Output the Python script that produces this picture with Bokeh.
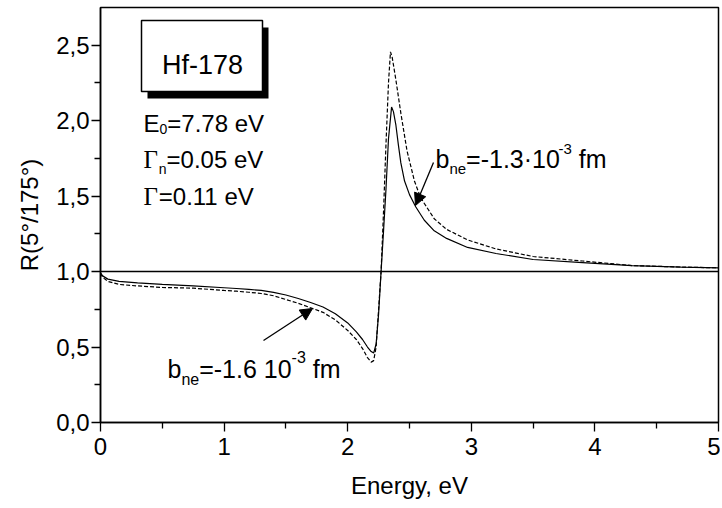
from bokeh.plotting import figure
from bokeh.models import Span, Label, Arrow, NormalHead, BoxAnnotation, FixedTicker, Range1d
from bokeh.embed import file_html
from bokeh.resources import INLINE

# ---------------- data ----------------
energy_solid = [0.0, 0.02, 0.06, 0.15, 0.3, 0.5, 0.75, 1.0, 1.1, 1.2, 1.3, 1.4, 1.5, 1.6, 1.7, 1.8,
                1.9, 2.0, 2.07, 2.12, 2.16, 2.19, 2.21, 2.23, 2.25, 2.27, 2.29, 2.31, 2.33, 2.355,
                2.37, 2.39, 2.41, 2.43, 2.46, 2.50, 2.55, 2.62, 2.70, 2.80, 2.97, 3.2, 3.5, 3.9,
                4.3, 4.7, 5.0]
ratio_solid = [0.99, 0.97, 0.95, 0.935, 0.925, 0.915, 0.905, 0.893, 0.888, 0.882, 0.875, 0.862,
               0.845, 0.822, 0.795, 0.765, 0.72, 0.66, 0.60, 0.55, 0.50, 0.47, 0.46, 0.52, 0.72,
               1.0, 1.27, 1.55, 1.88, 2.09, 2.06, 1.97, 1.84, 1.72, 1.60, 1.51, 1.43, 1.34, 1.27,
               1.22, 1.16, 1.12, 1.08, 1.06, 1.04, 1.03, 1.025]

energy_dashed = [0.0, 0.02, 0.06, 0.15, 0.3, 0.5, 0.75, 1.0, 1.1, 1.2, 1.3, 1.4, 1.5, 1.6, 1.7,
                 1.8, 1.9, 2.0, 2.07, 2.12, 2.16, 2.19, 2.21, 2.23, 2.25, 2.27, 2.29, 2.31, 2.33,
                 2.346, 2.36, 2.39, 2.43, 2.48, 2.54, 2.59, 2.70, 2.80, 2.97, 3.2, 3.5, 3.9, 4.3,
                 4.7, 5.0]
ratio_dashed = [0.99, 0.96, 0.935, 0.915, 0.905, 0.895, 0.89, 0.875, 0.87, 0.863, 0.855, 0.84,
                0.815, 0.79, 0.76, 0.73, 0.68, 0.61, 0.55, 0.49, 0.43, 0.40, 0.41, 0.50, 0.75,
                1.0, 1.4, 1.85, 2.25, 2.456, 2.42, 2.27, 2.05, 1.80, 1.60, 1.49, 1.35, 1.28, 1.21,
                1.15, 1.10, 1.07, 1.04, 1.03, 1.025]

ref_level = 1.0

x_ticks = [0, 1, 2, 3, 4, 5]
x_tick_labels = ["0", "1", "2", "3", "4", "5"]
y_ticks = [0.0, 0.5, 1.0, 1.5, 2.0, 2.5]
y_tick_labels = ["0,0", "0,5", "1,0", "1,5", "2,0", "2,5"]

# ---------------- figure ----------------
W, H = 720, 506
BL, BR, BT, BB = 100, 2, 7, 84
p = figure(width=W, height=H, output_backend="svg", toolbar_location=None,
           x_range=Range1d(0, 5), y_range=Range1d(0, 2.75),
           min_border_left=BL, min_border_right=BR, min_border_top=BT, min_border_bottom=BB)
p.background_fill_color = "white"
p.border_fill_color = "white"
p.outline_line_color = "black"
p.outline_line_width = 1.5
p.grid.visible = False

FONT = "Liberation Sans"
for ax in (p.xaxis[0], p.yaxis[0]):
    ax.axis_line_color = "black"
    ax.axis_line_width = 1.5
    ax.major_tick_line_color = "black"
    ax.minor_tick_line_color = "black"
    ax.major_tick_line_width = 1.3
    ax.minor_tick_line_width = 1.3
    ax.major_tick_in = 0
    ax.minor_tick_in = 0
    ax.major_tick_out = 9
    ax.minor_tick_out = 6
    ax.major_label_text_font = FONT
    ax.major_label_text_font_size = "24px"
    ax.major_label_text_color = "black"
    ax.axis_label_text_font = FONT
    ax.axis_label_text_font_size = "24px"
    ax.axis_label_text_font_style = "normal"
    ax.axis_label_text_color = "black"

p.xaxis[0].ticker = FixedTicker(ticks=x_ticks, minor_ticks=[0.5, 1.5, 2.5, 3.5, 4.5])
p.xaxis[0].major_label_overrides = {t: l for t, l in zip(x_ticks, x_tick_labels)}
p.yaxis[0].ticker = FixedTicker(ticks=y_ticks, minor_ticks=[0.25, 0.75, 1.25, 1.75, 2.25])
p.yaxis[0].major_label_overrides = {t: l for t, l in zip(y_ticks, y_tick_labels)}
p.xaxis[0].axis_label = "Energy, eV"
p.yaxis[0].axis_label = "R(5°/175°)"
p.xaxis[0].major_label_standoff = 6
p.yaxis[0].major_label_standoff = 2
p.xaxis[0].axis_label_standoff = 14
p.yaxis[0].axis_label_standoff = 10

p.add_layout(Span(location=ref_level, dimension="width", line_color="black", line_width=1.5))

p.line(energy_dashed, ratio_dashed, line_color="black", line_width=1.2, line_dash="4 2")
p.line(energy_solid, ratio_solid, line_color="black", line_width=1.2)

# ---------------- annotations (picture pixel layout -> data) ----------------
FX0, FY0 = float(BL), float(H - BB)
XS = (W - BL - BR) / 5.0
YS = (H - BB - BT) / 2.75


def xd(px):
    return (px - FX0) / XS


def yd(py):
    return (FY0 - py) / YS


ARIAL = {'b': .556, 'n': .556, 'e': .556, '=': .584, '-': .333, '1': .556, '.': .278, '3': .556,
         '6': .556, '·': .278, ' ': .278, '0': .556, 'f': .278, 'm': .833, 'E': .667, '7': .556,
         '8': .556, 'V': .667, '5': .556, 'H': .722, '2': .556, '4': .556}
TIMES = {'Γ': .611}
SERIF = "Liberation Serif"


def width(s, size, font):
    table = TIMES if font == SERIF else ARIAL
    return sum(table.get(c, .556) for c in s) * size


def rich(x_px, y_px, pieces):
    cur = x_px
    for text, size, dy, font in pieces:
        stripped = text.lstrip(" ")
        cur += width(text[:len(text) - len(stripped)], size, font)
        p.add_layout(Label(x=xd(cur), y=yd(y_px + dy), text=stripped, text_font=font,
                           text_font_size=f"{size}px", text_baseline="alphabetic",
                           text_align="left", text_color="black"))
        cur += width(stripped, size, font)


# title box with shadow
p.add_layout(BoxAnnotation(left=xd(147), right=xd(268), top=yd(27), bottom=yd(98),
                           fill_color="black", fill_alpha=1, line_color=None))
p.add_layout(BoxAnnotation(left=xd(141), right=xd(262), top=yd(20), bottom=yd(91),
                           fill_color="white", fill_alpha=1, line_color="black",
                           line_alpha=1, line_width=1.5))
p.add_layout(Label(x=xd(202), y=yd(64), text="Hf-178", text_font=FONT, text_font_size="27px",
                   text_align="center", text_baseline="alphabetic", text_color="black"))

rich(143, 123, [("E", 24, 0, FONT), ("0", 14, 5, FONT), ("=7.78 eV", 24, 0, FONT)])
rich(143, 159, [("Γ", 25, 0, SERIF), ("n", 14, 9, FONT), ("=0.05 eV", 24, 0, FONT)])
rich(143, 196, [("Γ", 25, 0, SERIF), ("=0.11 eV", 24, 0, FONT)])

rich(435, 158, [("b", 25, 0, FONT), ("ne", 15, 10, FONT), ("=-1.3·10", 25, 0, FONT),
                ("-3", 15, -10, FONT), (" fm", 25, 0, FONT)])
rich(167, 368, [("b", 25, 0, FONT), ("ne", 16, 11, FONT), ("=-1.6 10", 25, 0, FONT),
                ("-3", 16, -12, FONT), (" fm", 25, 0, FONT)])

head = dict(size=12, fill_color="black", line_color="black", line_width=1)
p.add_layout(Arrow(end=NormalHead(**head), x_start=xd(433), y_start=yd(162),
                   x_end=xd(415), y_end=yd(205), line_color="black", line_width=1.3))
p.add_layout(Arrow(end=NormalHead(**head), x_start=xd(263), y_start=yd(340),
                   x_end=xd(312), y_end=yd(308), line_color="black", line_width=1.3))

open("out.html", "w").write(file_html(p, INLINE))
